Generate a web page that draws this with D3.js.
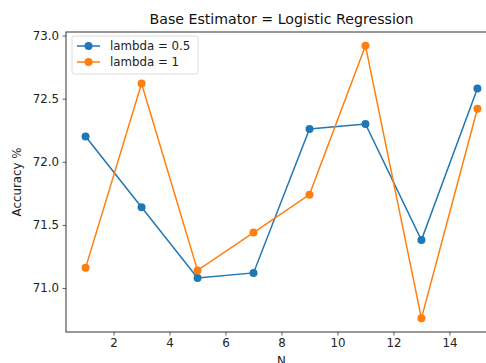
<!DOCTYPE html>
<html>
<head>
<meta charset="utf-8">
<script src="https://cdn.jsdelivr.net/npm/d3@7"></script>
<style>
  body { margin: 0; background: #fff; overflow: hidden; }
  svg { display: block; font-family: "DejaVu Sans", sans-serif; }
</style>
</head>
<body>
<div id="chart"></div>
<script>
// data
const nValues = [1, 3, 5, 7, 9, 11, 13, 15];
const accLambda05 = [72.2, 71.64, 71.08, 71.12, 72.26, 72.30, 71.38, 72.58];
const accLambda1 = [71.16, 72.62, 71.14, 71.44, 71.74, 72.92, 70.76, 72.42];
const xTicks = [2, 4, 6, 8, 10, 12, 14];
const yTicks = [71.0, 71.5, 72.0, 72.5, 73.0];
const seriesNames = ['lambda = 0.5', 'lambda = 1'];
const seriesColors = ['#1f77b4', '#ff7f0e'];

const width = 486, height = 363;
const margin = { top: 32, left: 66, right: -11, bottom: 31 };
const fontSize = 11.8;

const svg = d3.select('#chart')
    .append('svg')
    .attr('width', width)
    .attr('height', height);

const x = d3.scaleLinear()
    .domain([0.3, 15.7])
    .range([margin.left, width - margin.right]);

const y = d3.scaleLinear()
    .domain([70.652, 73.028])
    .range([height - margin.bottom, margin.top]);

// axes
const xAxis = svg.append('g')
    .attr('transform', `translate(0,${height - margin.bottom})`)
    .call(d3.axisBottom(x).tickValues(xTicks).tickSize(3.5).tickPadding(3.5).tickFormat(d3.format('d')));

const yAxis = svg.append('g')
    .attr('transform', `translate(${margin.left},0)`)
    .call(d3.axisLeft(y).tickValues(yTicks).tickSize(3.5).tickPadding(3.5).tickFormat(d3.format('.1f')));

[xAxis, yAxis].forEach(a => {
    a.selectAll('text').attr('font-size', fontSize).attr('fill', '#222').attr('font-family', '"DejaVu Sans", sans-serif');
    a.selectAll('line').attr('stroke', '#333').attr('stroke-width', 0.8);
    a.select('.domain').remove();
});

// spines
svg.append('rect')
    .attr('x', margin.left)
    .attr('y', margin.top)
    .attr('width', width - margin.right - margin.left)
    .attr('height', height - margin.bottom - margin.top)
    .attr('fill', 'none')
    .attr('stroke', '#333')
    .attr('stroke-width', 1);

// lines
const line = d3.line()
    .x((d, i) => x(nValues[i]))
    .y(d => y(d));

[accLambda05, accLambda1].forEach((vals, k) => {
    const g = svg.append('g');
    g.append('path')
        .datum(vals)
        .attr('d', line)
        .attr('fill', 'none')
        .attr('stroke', seriesColors[k])
        .attr('stroke-width', 1.5);
    g.selectAll('circle')
        .data(vals)
        .join('circle')
        .attr('cx', (d, i) => x(nValues[i]))
        .attr('cy', d => y(d))
        .attr('r', 4)
        .attr('fill', seriesColors[k]);
});

// title and labels
svg.append('text')
    .attr('x', (margin.left + width - margin.right) / 2)
    .attr('y', 24)
    .attr('text-anchor', 'middle')
    .attr('font-size', fontSize * 1.2)
    .attr('fill', '#111')
    .text('Base Estimator = Logistic Regression');

svg.append('text')
    .attr('x', (margin.left + width - margin.right) / 2)
    .attr('y', 364.5)
    .attr('text-anchor', 'middle')
    .attr('font-size', fontSize)
    .attr('fill', '#222')
    .text('N');

svg.append('text')
    .attr('transform', `translate(21,${(margin.top + height - margin.bottom) / 2}) rotate(-90)`)
    .attr('text-anchor', 'middle')
    .attr('font-size', fontSize)
    .attr('fill', '#222')
    .text('Accuracy %');

// legend
const legend = svg.append('g').attr('transform', `translate(${margin.left + 6},${margin.top + 4})`);
legend.append('rect')
    .attr('width', 126)
    .attr('height', 38)
    .attr('rx', 2)
    .attr('fill', '#fff')
    .attr('fill-opacity', 0.8)
    .attr('stroke', '#ddd');
seriesNames.forEach((name, i) => {
    const row = legend.append('g').attr('transform', `translate(0,${10 + i * 16})`);
    row.append('line')
        .attr('x1', 5).attr('x2', 28)
        .attr('stroke', seriesColors[i])
        .attr('stroke-width', 1.5);
    row.append('circle')
        .attr('cx', 16.5)
        .attr('r', 4)
        .attr('fill', seriesColors[i]);
    row.append('text')
        .attr('x', 38)
        .attr('dy', '0.35em')
        .attr('font-size', fontSize)
        .attr('fill', '#222')
        .text(name);
});
</script>
</body>
</html>
